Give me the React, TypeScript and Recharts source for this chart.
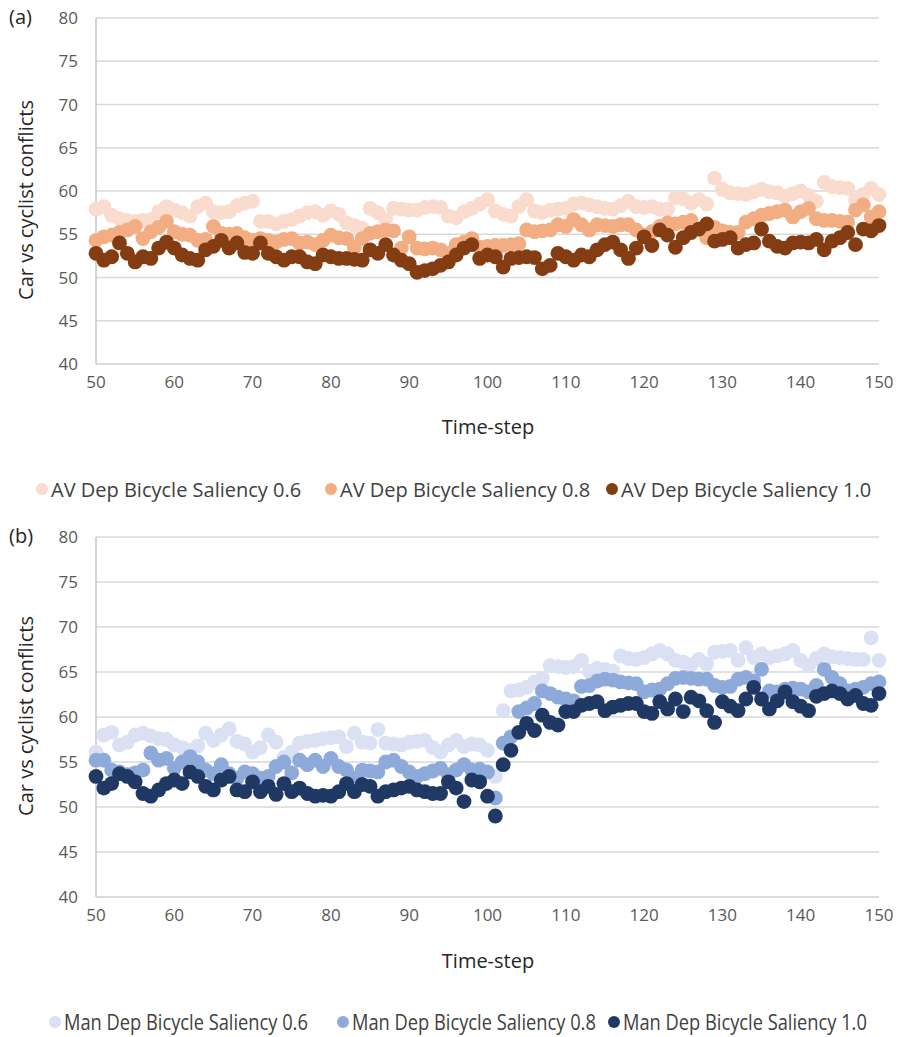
import React from 'react';
import { ScatterChart, Scatter, XAxis, YAxis, CartesianGrid } from 'recharts';

const timeSteps = [50,51,52,53,54,55,56,57,58,59,60,61,62,63,64,65,66,67,68,69,70,71,72,73,74,75,76,77,78,79,80,81,82,83,84,85,86,87,88,89,90,91,92,93,94,95,96,97,98,99,100,101,102,103,104,105,106,107,108,109,110,111,112,113,114,115,116,117,118,119,120,121,122,123,124,125,126,127,128,129,130,131,132,133,134,135,136,137,138,139,140,141,142,143,144,145,146,147,148,149,150];

const xTicks = [50, 60, 70, 80, 90, 100, 110, 120, 130, 140, 150];
const yTicks = [40, 45, 50, 55, 60, 65, 70, 75, 80];

const avDep06 = [57.9,58.2,57.2,56.8,56.6,56.5,56.6,56.7,57.6,58.2,57.8,57.5,57.1,58.2,58.6,57.6,57.5,57.6,58.3,58.6,58.8,56.5,56.5,56.2,56.5,56.7,57.1,57.5,57.6,57.2,57.7,57.3,56.3,56.0,55.7,58.0,57.5,56.7,58.0,57.9,57.8,57.8,58.1,58.2,58.1,57.1,56.9,57.6,58.0,58.5,59.0,57.7,57.3,57.1,58.2,59.0,57.7,57.5,57.8,57.9,58.0,58.5,58.6,58.4,58.2,58.0,57.9,58.3,58.8,58.2,58.1,58.2,57.9,57.9,59.2,59.1,58.6,59.0,58.5,61.5,60.2,59.8,59.7,59.6,59.9,60.2,59.9,59.8,59.4,59.7,60.0,59.5,58.8,61.0,60.5,60.4,60.3,59.0,59.6,60.3,59.6];
const avDep08 = [54.3,54.7,54.9,55.2,55.5,55.9,54.5,55.3,55.8,56.5,55.3,55.0,54.9,54.3,54.4,55.9,55.1,55.0,55.1,54.6,54.3,54.5,54.3,54.1,54.4,54.5,54.0,54.1,53.8,54.3,54.9,54.6,54.5,53.5,54.5,55.1,55.3,55.5,55.4,53.4,54.7,53.4,53.3,53.4,53.2,52.8,53.8,54.1,54.5,53.5,53.6,53.7,53.7,53.8,53.9,55.5,55.3,55.4,55.5,56.1,55.9,56.7,56.1,55.5,56.1,56.0,55.9,56.1,56.1,55.5,54.9,55.3,55.9,56.3,56.2,56.4,56.6,55.6,54.6,55.8,55.4,55.2,55.2,56.4,56.8,57.2,57.4,57.6,57.8,57.0,57.6,58.0,56.8,56.6,56.6,56.5,56.4,57.8,58.4,57.0,57.6];
const avDep10 = [52.8,52.0,52.4,54.0,52.8,51.8,52.4,52.2,53.4,54.1,53.4,52.6,52.2,52.0,53.2,53.6,54.3,53.4,54.0,52.9,52.8,54.0,52.8,52.4,52.0,52.4,52.4,51.8,51.6,52.6,52.4,52.2,52.2,52.1,52.0,53.2,52.8,53.8,52.6,52.0,51.6,50.6,50.8,51.0,51.4,51.8,52.6,53.4,53.8,52.2,52.6,52.4,51.2,52.2,52.3,52.4,52.3,51.0,51.4,52.8,52.4,52.0,52.6,52.4,53.2,53.8,54.1,53.2,52.2,53.4,54.7,53.7,55.5,54.9,53.5,54.6,55.2,55.6,56.2,54.2,54.4,54.6,53.4,53.8,54.0,55.6,54.2,53.6,53.4,54.0,54.1,54.0,54.4,53.2,54.2,54.6,55.2,53.8,55.6,55.4,56.0];

const manDep06 = [56.1,58.0,58.3,56.9,57.2,58.0,58.2,57.9,57.6,57.5,56.9,56.6,56.3,56.8,58.2,57.4,58.0,58.7,57.3,57.0,56.1,56.6,58.0,57.2,55.5,56.1,57.1,57.3,57.4,57.6,57.7,57.8,56.7,58.2,57.2,57.1,58.6,57.1,57.0,56.9,57.2,57.3,57.4,56.6,56.1,56.9,57.4,56.7,57.0,56.9,56.3,53.4,60.7,62.9,63.0,63.3,63.9,64.3,65.7,65.6,65.5,65.6,66.3,65.1,65.4,65.3,65.1,66.8,66.5,66.4,66.6,67.0,67.4,67.0,66.3,66.1,65.8,66.4,65.9,67.2,67.3,67.4,66.3,67.7,66.6,67.0,66.6,66.8,67.0,67.4,66.3,65.7,66.5,67.0,66.7,66.6,66.5,66.4,66.4,68.8,66.3];
const manDep08 = [55.2,55.2,54.1,53.9,53.6,53.8,54.1,56.0,55.2,55.4,54.3,55.0,55.6,55.0,54.1,53.7,54.7,53.7,53.2,53.9,53.7,53.2,53.4,54.5,55.0,53.8,55.2,54.7,55.2,54.5,55.4,54.5,54.1,53.2,54.1,54.0,53.9,55.0,55.2,54.5,53.9,53.4,53.7,54.0,54.3,53.6,54.1,54.7,54.1,54.2,53.9,51.0,57.1,57.8,60.6,61.0,61.5,62.9,62.6,62.2,62.0,61.8,63.4,63.5,64.0,64.2,64.1,63.9,63.8,63.7,62.8,63.0,63.1,63.7,64.3,64.4,64.3,64.2,64.2,63.5,63.3,63.4,64.2,64.4,64.0,65.3,62.9,62.8,63.1,63.2,63.1,62.8,63.5,65.3,64.4,63.7,62.9,63.1,63.3,63.7,63.9];
const manDep10 = [53.4,52.1,52.6,53.7,53.4,52.8,51.5,51.2,51.9,52.6,53.0,52.6,53.9,53.4,52.3,51.9,53.0,53.4,51.9,51.7,52.8,51.7,52.3,51.4,52.6,51.7,52.1,51.5,51.2,51.3,51.2,51.7,52.6,51.7,52.5,52.3,51.2,51.7,51.9,52.1,52.3,51.9,51.7,51.5,51.5,52.8,52.1,50.6,53.0,52.8,51.2,49.0,54.7,56.3,58.3,59.3,58.5,60.2,59.4,59.1,60.6,60.6,61.3,61.5,61.7,60.7,61.1,61.3,61.5,61.5,60.6,60.4,61.7,60.9,62.0,60.6,62.2,61.8,60.7,59.4,61.7,61.2,60.7,62.0,63.3,62.0,60.9,61.8,62.8,61.7,61.2,60.7,62.3,62.6,62.9,62.6,62.0,62.4,61.5,61.3,62.6];

const panelA = [
  { name: 'AV Dep Bicycle Saliency 0.6', values: avDep06, color: '#f9dccd' },
  { name: 'AV Dep Bicycle Saliency 0.8', values: avDep08, color: '#f2ae82' },
  { name: 'AV Dep Bicycle Saliency 1.0', values: avDep10, color: '#843c12' },
];
const panelB = [
  { name: 'Man Dep Bicycle Saliency 0.6', values: manDep06, color: '#d9e1f3' },
  { name: 'Man Dep Bicycle Saliency 0.8', values: manDep08, color: '#8eaadb' },
  { name: 'Man Dep Bicycle Saliency 1.0', values: manDep10, color: '#1f3864' },
];

const FONT = '"Open Sans", "Noto Sans", sans-serif';

function Panel({ series, plotHeight }: { series: any[]; plotHeight: number }) {
  const height = 18 + plotHeight + 30;
  return (
    <ScatterChart width={901} height={height} margin={{ top: 18, right: 22, left: 0, bottom: 0 }}>
      <CartesianGrid horizontal={true} vertical={false} stroke="#d9d9d9" strokeWidth={1.3} />
      <XAxis
        type="number"
        dataKey="x"
        domain={[50, 150]}
        ticks={xTicks}
        tickLine={false}
        tickSize={0}
        tickMargin={12}
        axisLine={{ stroke: '#d9d9d9', strokeWidth: 1.3 }}
        tick={{ fill: '#595959', fontSize: 17, fontFamily: FONT }}
        height={30}
        interval={0}
      />
      <YAxis
        type="number"
        dataKey="y"
        domain={[40, 80]}
        ticks={yTicks}
        tickLine={false}
        tickSize={0}
        tickMargin={18}
        axisLine={{ stroke: '#bfbfbf', strokeWidth: 1.3 }}
        tick={{ fill: '#595959', fontSize: 17, fontFamily: FONT }}
        width={96}
        interval={0}
      />
      {series.map((s) => (
        <Scatter
          key={s.name}
          name={s.name}
          data={timeSteps.map((t, i) => ({ x: t, y: s.values[i] }))}
          fill={s.color}
          isAnimationActive={false}
          shape={(p: any) => <circle cx={p.cx} cy={p.cy} r={7.4} fill={s.color} />}
        />
      ))}
    </ScatterChart>
  );
}

function Legend({ series, top, xs, size, squeeze }: { series: any[]; top: number; xs: number[]; size: number; squeeze: number }) {
  return (
    <>
      {series.map((s, i) => (
        <div key={s.name} style={{ position: 'absolute', left: xs[i] - 6, top: top - 14, height: 28, display: 'flex', alignItems: 'center', whiteSpace: 'nowrap' }}>
          <span style={{ display: 'inline-block', width: 12, height: 12, borderRadius: 6, background: s.color, marginRight: 3 }} />
          <span style={{ display: 'inline-block', fontFamily: FONT, fontSize: size, color: '#404040', transform: `scaleX(${squeeze})`, transformOrigin: 'left center' }}>{s.name}</span>
        </div>
      ))}
    </>
  );
}

export default function App() {
  const titleStyle: React.CSSProperties = { position: 'absolute', fontFamily: FONT, fontSize: 20, color: '#262626', whiteSpace: 'nowrap' };
  return (
    <div style={{ position: 'absolute', left: 0, top: 0, width: 901, height: 1037, background: '#fff', overflow: 'hidden' }}>
      <div style={{ position: 'absolute', left: 0, top: 0 }}>
        <Panel series={panelA} plotHeight={346} />
      </div>
      <div style={{ position: 'absolute', left: 0, top: 519 }}>
        <Panel series={panelB} plotHeight={360} />
      </div>

      <div style={{ ...titleStyle, left: 9, top: 3 }}>(a)</div>
      <div style={{ ...titleStyle, left: 9, top: 522 }}>(b)</div>

      <div style={{ ...titleStyle, left: 25, top: 200, transform: 'translate(-50%, -50%) rotate(-90deg)' }}>Car vs cyclist conflicts</div>
      <div style={{ ...titleStyle, left: 25, top: 716, transform: 'translate(-50%, -50%) rotate(-90deg)' }}>Car vs cyclist conflicts</div>

      <div style={{ ...titleStyle, left: 488, top: 426, transform: 'translate(-50%, -50%)' }}>Time-step</div>
      <div style={{ ...titleStyle, left: 488, top: 960, transform: 'translate(-50%, -50%)' }}>Time-step</div>

      <Legend series={panelA} top={489} xs={[42, 331, 612]} size={20} squeeze={1} />
      <Legend series={panelB} top={1022} xs={[55, 343, 614]} size={21} squeeze={0.87} />
    </div>
  );
}
